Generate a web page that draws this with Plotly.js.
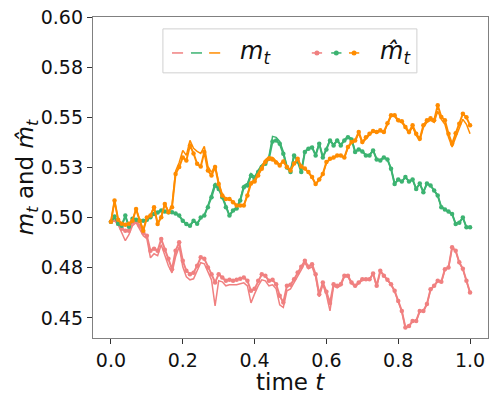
<!DOCTYPE html>
<html>
<head>
<meta charset="utf-8">
<script src="https://cdn.plot.ly/plotly-3.0.1.min.js"></script>
<style>
  html, body { margin: 0; padding: 0; background: #fff; }
  #plot { width: 498px; height: 399px; }
</style>
</head>
<body>
<div id="plot"></div>
<script>
// time grid
const time = [0,0.01,0.02,0.03,0.04,0.05,0.06,0.07,0.08,0.09,
  0.1,0.11,0.12,0.13,0.14,0.15,0.16,0.17,0.18,0.19,
  0.2,0.21,0.22,0.23,0.24,0.25,0.26,0.27,0.28,0.29,
  0.3,0.31,0.32,0.33,0.34,0.35,0.36,0.37,0.38,0.39,
  0.4,0.41,0.42,0.43,0.44,0.45,0.46,0.47,0.48,0.49,
  0.5,0.51,0.52,0.53,0.54,0.55,0.56,0.57,0.58,0.59,
  0.6,0.61,0.62,0.63,0.64,0.65,0.66,0.67,0.68,0.69,
  0.7,0.71,0.72,0.73,0.74,0.75,0.76,0.77,0.78,0.79,
  0.8,0.81,0.82,0.83,0.84,0.85,0.86,0.87,0.88,0.89,
  0.9,0.91,0.92,0.93,0.94,0.95,0.96,0.97,0.98,0.99,1];

// red: m_t and estimate
const redTrue = [0.498,0.4985,0.4965,0.492,0.4885,0.4915,0.496,0.4975,0.4945,0.491,
  0.4895,0.480,0.482,0.481,0.4865,0.481,0.476,0.4725,0.4805,0.4855,
  0.4755,0.4705,0.469,0.4695,0.4735,0.4775,0.477,0.4725,0.469,0.456,
  0.4685,0.468,0.466,0.4665,0.4665,0.4665,0.467,0.4675,0.466,0.4575,
  0.462,0.466,0.469,0.4685,0.466,0.4665,0.4645,0.4565,0.4552,0.4635,
  0.4645,0.4675,0.471,0.474,0.4775,0.4745,0.4755,0.4705,0.4605,0.4665,
  0.4615,0.4535,0.466,0.465,0.4662,0.4705,0.4705,0.4672,0.4655,0.4672,
  0.4688,0.469,0.469,0.472,0.4655,0.4732,0.4707,0.4688,0.4665,0.4632,
  0.4582,0.4532,0.445,0.4458,0.4483,0.4483,0.4533,0.4533,0.4568,0.464,
  0.4658,0.4683,0.4678,0.474,0.475,0.485,0.4833,0.4775,0.4743,0.4683,
  0.4625];
const redHat = [0.498,0.499,0.497,0.4945,0.4935,0.4935,0.4977,0.498,0.496,0.4925,
  0.491,0.4835,0.4845,0.4835,0.4893,0.484,0.4795,0.4743,0.4835,0.4877,
  0.4785,0.4735,0.4718,0.4725,0.476,0.4802,0.4795,0.4752,0.4718,0.4677,
  0.4718,0.4702,0.4685,0.469,0.4685,0.469,0.4695,0.4702,0.4685,0.4635,
  0.4645,0.4685,0.4718,0.471,0.4685,0.469,0.4668,0.461,0.4577,0.466,
  0.4665,0.4693,0.4727,0.4755,0.4785,0.4755,0.4768,0.4718,0.4618,0.4677,
  0.463,0.4575,0.4668,0.466,0.4668,0.471,0.471,0.4677,0.466,0.4677,
  0.4693,0.4693,0.4693,0.4722,0.466,0.4735,0.471,0.469,0.4668,0.4635,
  0.4585,0.4535,0.4452,0.446,0.4485,0.4485,0.4535,0.4535,0.457,0.4643,
  0.466,0.4685,0.468,0.4743,0.4752,0.4852,0.4835,0.4777,0.4745,0.4685,
  0.4627];

// green
const greenTrue = [0.498,0.5,0.4972,0.4962,0.5005,0.4958,0.4993,0.4988,0.4985,0.4987,
  0.4992,0.5005,0.502,0.5028,0.5038,0.5033,0.503,0.5028,0.5022,0.5008,
  0.4983,0.4965,0.4958,0.4983,0.4968,0.4998,0.5012,0.5058,0.511,0.5172,
  0.5152,0.5108,0.5055,0.5012,0.5038,0.505,0.5092,0.516,0.517,0.522,
  0.5203,0.5237,0.5262,0.5278,0.5305,0.5405,0.540,0.538,0.5328,0.5258,
  0.5233,0.5315,0.5285,0.5232,0.533,0.5347,0.5353,0.5313,0.5372,0.5303,
  0.5343,0.5388,0.5363,0.5388,0.5363,0.5388,0.5405,0.5395,0.533,0.5342,
  0.5332,0.5312,0.5312,0.5337,0.5292,0.5287,0.5302,0.529,0.5245,0.517,
  0.519,0.518,0.5202,0.518,0.519,0.5143,0.517,0.5127,0.517,0.516,
  0.5135,0.511,0.5052,0.504,0.503,0.5018,0.4968,0.4975,0.500,0.4952,
  0.4952];
const greenHat = [0.498,0.5005,0.497,0.496,0.501,0.4955,0.4995,0.499,0.4985,0.4985,
  0.499,0.5002,0.5018,0.5025,0.5035,0.503,0.5027,0.5027,0.502,0.501,
  0.4985,0.4968,0.496,0.4985,0.497,0.500,0.501,0.5052,0.5102,0.516,
  0.5143,0.5102,0.5052,0.501,0.5035,0.5045,0.5085,0.5152,0.516,0.521,
  0.5193,0.5227,0.5252,0.5268,0.5293,0.538,0.5385,0.5368,0.5318,0.525,
  0.5227,0.531,0.528,0.5227,0.5327,0.5343,0.535,0.531,0.5368,0.530,
  0.534,0.5385,0.536,0.5385,0.536,0.5385,0.540,0.539,0.5327,0.534,
  0.533,0.531,0.531,0.5335,0.529,0.5285,0.530,0.529,0.5243,0.5168,
  0.519,0.518,0.5202,0.518,0.519,0.5143,0.517,0.5127,0.517,0.516,
  0.5135,0.511,0.5052,0.504,0.503,0.5018,0.4968,0.4975,0.500,0.4952,
  0.4952];

// orange
const orangeTrue = [0.498,0.5085,0.499,0.497,0.4965,0.497,0.4985,0.5045,0.4988,0.4938,
  0.5002,0.501,0.5055,0.497,0.5005,0.507,0.503,0.5058,0.5232,0.5275,
  0.5335,0.531,0.5385,0.5345,0.533,0.532,0.5355,0.5255,0.5225,0.5262,
  0.5175,0.5115,0.5097,0.5095,0.508,0.5062,0.5062,0.5062,0.5115,0.5178,
  0.5188,0.5218,0.5255,0.5288,0.5303,0.53,0.5282,0.5265,0.5285,0.5255,
  0.5235,0.5268,0.529,0.5252,0.5242,0.5225,0.52,0.5165,0.5188,0.5215,
  0.5272,0.529,0.5297,0.5307,0.5307,0.5298,0.5348,0.5372,0.538,0.542,
  0.5372,0.5395,0.5412,0.5428,0.5422,0.543,0.5422,0.5465,0.5505,0.5505,
  0.548,0.5475,0.5445,0.542,0.5452,0.541,0.5383,0.545,0.5475,0.5485,
  0.5475,0.553,0.549,0.5465,0.54,0.5352,0.54,0.5445,0.549,0.5465,
  0.5418];
const orangeHat = [0.498,0.5085,0.499,0.497,0.4965,0.497,0.4985,0.5043,0.4985,0.4935,
  0.500,0.501,0.5052,0.4968,0.5002,0.5068,0.5027,0.5052,0.5218,0.5252,
  0.530,0.5285,0.536,0.532,0.5268,0.5255,0.5327,0.5235,0.521,0.5252,
  0.5168,0.511,0.5093,0.5093,0.5077,0.506,0.506,0.506,0.511,0.517,
  0.518,0.521,0.5243,0.5277,0.5293,0.529,0.5275,0.526,0.528,0.5252,
  0.5235,0.527,0.5293,0.5255,0.5245,0.5227,0.5202,0.5168,0.519,0.5218,
  0.5277,0.5293,0.530,0.531,0.531,0.530,0.5352,0.5377,0.5385,0.5427,
  0.5377,0.540,0.5418,0.5432,0.5427,0.5435,0.5427,0.547,0.551,0.551,
  0.5485,0.548,0.5452,0.5427,0.546,0.5418,0.5393,0.546,0.5485,0.5495,
  0.5485,0.556,0.5502,0.5485,0.5418,0.5368,0.542,0.5468,0.5518,0.550,
  0.546];

const yTickVals = [0.45, 0.475, 0.5, 0.525, 0.55, 0.575, 0.6];
const yTickText = ['0.45', '0.48', '0.50', '0.53', '0.55', '0.58', '0.60'];
const xTickVals = [0, 0.2, 0.4, 0.6, 0.8, 1.0];
const xTickText = ['0.0', '0.2', '0.4', '0.6', '0.8', '1.0'];

const colors = ['#f08080', '#3cb371', '#ff8c00'];
const groups = [[redTrue, redHat], [greenTrue, greenHat], [orangeTrue, orangeHat]];

const FONT = 'DejaVu Sans, sans-serif';

let traces = [];
groups.forEach((g, i) => {
    traces.push({
        x: time, y: g[0], mode: 'lines', type: 'scatter',
        line: { color: colors[i], width: 1.5 },
        showlegend: false, hoverinfo: 'skip',
    });
    traces.push({
        x: time, y: g[1], mode: 'lines+markers', type: 'scatter',
        line: { color: colors[i], width: 2 },
        marker: { color: colors[i], size: 4.5 },
        showlegend: false, hoverinfo: 'skip',
    });
});

// hand-made legend (tuple handles like the original)
const legY = 0.888;
let shapes = [{
    type: 'rect', xref: 'paper', yref: 'paper',
    x0: 0.177, x1: 0.820, y0: 0.826, y1: 0.963,
    line: { color: '#d0d0d0', width: 1 }, fillcolor: 'rgba(255,255,255,0.8)',
}];
const segTrue = [[0.200, 0.228], [0.248, 0.276], [0.294, 0.322]];
const segHat = [[0.554, 0.580], [0.603, 0.629], [0.648, 0.674]];
segTrue.forEach((s, i) => {
    shapes.push({ type: 'line', xref: 'paper', yref: 'paper', x0: s[0], x1: s[1], y0: legY, y1: legY,
        line: { color: colors[i], width: 1.5 } });
});
segHat.forEach((s, i) => {
    shapes.push({ type: 'line', xref: 'paper', yref: 'paper', x0: s[0], x1: s[1], y0: legY, y1: legY,
        line: { color: colors[i], width: 1.5 } });
    let cx = (s[0] + s[1]) / 2;
    shapes.push({ type: 'circle', xref: 'paper', yref: 'paper',
        x0: cx - 0.0063, x1: cx + 0.0063, y0: legY - 0.0078, y1: legY + 0.0078,
        line: { width: 0 }, fillcolor: colors[i] });
});

const layout = {
    width: 498, height: 399,
    margin: { l: 93, r: 10, t: 17, b: 61 },
    paper_bgcolor: '#fff', plot_bgcolor: '#fff',
    font: { family: FONT, color: '#000' },
    showlegend: false,
    xaxis: {
        range: [-0.05, 1.05],
        tickvals: xTickVals, ticktext: xTickText,
        ticks: 'outside', ticklen: 5, tickcolor: '#333',
        tickfont: { family: FONT, size: 19, color: '#111' },
        showgrid: false, zeroline: false,
        showline: true, linecolor: '#808080', linewidth: 1.2, mirror: true,
    },
    yaxis: {
        range: [0.44, 0.60],
        tickvals: yTickVals, ticktext: yTickText,
        ticks: 'outside', ticklen: 5, tickcolor: '#333',
        tickfont: { family: FONT, size: 19, color: '#111' },
        showgrid: false, zeroline: false,
        showline: true, linecolor: '#808080', linewidth: 1.2, mirror: true,
    },
    shapes: shapes,
    annotations: [
        // axis titles
        { xref: 'paper', yref: 'paper', x: 0.499, y: -0.136, xanchor: 'center', yanchor: 'middle',
          text: 'time <i>t</i>', showarrow: false,
          font: { family: FONT, size: 23, color: '#111' } },
        { xref: 'paper', yref: 'paper', x: -0.168, y: 0.5, xanchor: 'center', yanchor: 'middle',
          textangle: -90,
          text: '<i>m</i><sub><i>t</i></sub> and <i>m\u0302</i><sub><i>t</i></sub>', showarrow: false,
          font: { family: FONT, size: 23, color: '#111' } },
        // legend labels
        { xref: 'paper', yref: 'paper', x: 0.367, y: legY, xanchor: 'left', yanchor: 'middle',
          text: '<i>m</i><sub><i>t</i></sub>', showarrow: false,
          font: { family: FONT, size: 24, color: '#111' } },
        { xref: 'paper', yref: 'paper', x: 0.722, y: legY, xanchor: 'left', yanchor: 'middle',
          text: '<i>m\u0302</i><sub><i>t</i></sub>', showarrow: false,
          font: { family: FONT, size: 24, color: '#111' } },
    ],
};

Plotly.newPlot('plot', traces, layout, { displayModeBar: false, staticPlot: true });
</script>
</body>
</html>
